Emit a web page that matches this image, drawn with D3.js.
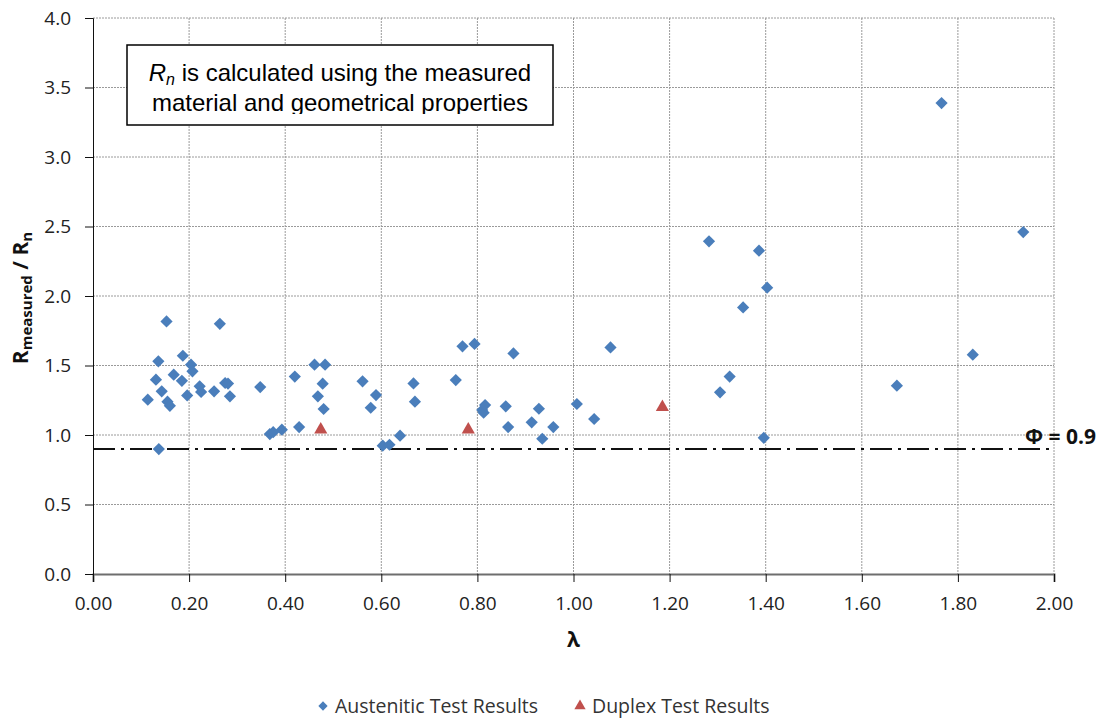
<!DOCTYPE html>
<meta charset="utf-8">
<head>
<style>
  body { margin: 0; background: #fff; }
  svg { display: block; }
  .tick text { font-family: "Open Sans", sans-serif; font-size: 19px; fill: #222; }
  .grid line { stroke: #9a9a9a; stroke-dasharray: 2,1; }
  .axis-title { font-family: "Open Sans", sans-serif; font-weight: bold; fill: #111; }
  .legend text { font-family: "Open Sans", sans-serif; font-size: 19.5px; fill: #333; }
  .note { font-family: "Liberation Sans", Arial, sans-serif; font-size: 24px; fill: #000; }
</style>
<script src="https://d3js.org/d3.v7.min.js"></script>
</head>
<body>
<svg width="1099" height="720"></svg>
<script>
// Austenitic test results (lambda, Rmeasured/Rn)
var austLambda = [0.153, 0.264, 0.136, 0.187, 0.204, 0.207, 0.131, 0.168, 0.185, 0.143,
                  0.114, 0.155, 0.160, 0.196, 0.222, 0.225, 0.252, 0.275, 0.281, 0.285,
                  0.137, 0.348, 0.368, 0.375, 0.393, 0.420, 0.429, 0.461, 0.468, 0.478,
                  0.480, 0.483, 0.561, 0.578, 0.589, 0.603, 0.617, 0.639, 0.667, 0.670,
                  0.755, 0.769, 0.794, 0.810, 0.813, 0.816, 0.859, 0.864, 0.875, 0.913,
                  0.928, 0.935, 0.958, 1.007, 1.043, 1.077, 1.282, 1.305, 1.325, 1.353,
                  1.386, 1.396, 1.403, 1.673, 1.766, 1.831, 1.936];
var austRatio  = [1.817, 1.800, 1.530, 1.570, 1.506, 1.458, 1.398, 1.434, 1.390, 1.314,
                  1.254, 1.240, 1.210, 1.285, 1.350, 1.310, 1.314, 1.374, 1.370, 1.278,
                  0.899, 1.345, 1.007, 1.020, 1.038, 1.420, 1.057, 1.506, 1.278, 1.369,
                  1.187, 1.506, 1.386, 1.196, 1.287, 0.923, 0.930, 0.995, 1.371, 1.240,
                  1.395, 1.638, 1.655, 1.180, 1.160, 1.215, 1.206, 1.057, 1.587, 1.091,
                  1.189, 0.973, 1.057, 1.223, 1.115, 1.630, 2.393, 1.307, 1.420, 1.918,
                  2.326, 0.980, 2.060, 1.355, 3.388, 1.578, 2.460];
// Duplex test results
var duplexLambda = [0.474, 0.781, 1.185];
var duplexRatio  = [1.038, 1.038, 1.200];

var xTicks = [0, 0.2, 0.4, 0.6, 0.8, 1.0, 1.2, 1.4, 1.6, 1.8, 2.0];
var yTicks = [0, 0.5, 1.0, 1.5, 2.0, 2.5, 3.0, 3.5, 4.0];
var phi = 0.9;

var margin = {top: 18, left: 93, right: 45, bottom: 146};
var svg = d3.select("svg"),
    width = +svg.attr("width") - margin.left - margin.right,
    height = +svg.attr("height") - margin.top - margin.bottom;

var x = d3.scaleLinear().domain([0, 2]).range([0, width]);
var y = d3.scaleLinear().domain([0, 4]).range([height, 0]);

var g = svg.append("g").attr("transform", "translate(" + margin.left + "," + margin.top + ")");

// gridlines
g.append("g").attr("class", "grid")
  .selectAll("line").data(yTicks.slice(1)).enter().append("line")
    .attr("x1", 0).attr("x2", width)
    .attr("y1", d => y(d)).attr("y2", d => y(d));
g.append("g").attr("class", "grid")
  .selectAll("line").data(xTicks.slice(1)).enter().append("line")
    .attr("y1", 0).attr("y2", height)
    .attr("x1", d => x(d)).attr("x2", d => x(d));

// axes
var xAxis = g.append("g")
    .attr("transform", "translate(0," + height + ")")
    .call(d3.axisBottom(x).tickValues(xTicks).tickFormat(d3.format(".2f")).tickSize(8).tickPadding(15));
xAxis.select(".domain").attr("stroke", "#6e6e6e").attr("stroke-width", 2);
xAxis.selectAll(".tick line").attr("stroke", "#111");

var yAxis = g.append("g")
    .call(d3.axisLeft(y).tickValues(yTicks).tickFormat(d3.format(".1f")).tickSize(8).tickPadding(14));
yAxis.select(".domain").attr("stroke", "#111");
yAxis.selectAll(".tick line").attr("stroke", "#111");

// phi line
g.append("line")
    .attr("x1", 0).attr("x2", width)
    .attr("y1", y(phi)).attr("y2", y(phi))
    .attr("stroke", "#111").attr("stroke-width", 2)
    .attr("stroke-dasharray", "22,6,3,6");
g.append("text")
    .attr("class", "axis-title")
    .attr("x", width + 42).attr("y", y(phi) - 5)
    .attr("text-anchor", "end")
    .style("font-size", "21px")
    .text("\u03A6 = 0.9");

// markers
var diamond = d3.symbol().type(d3.symbolDiamond2).size(95);
g.append("g").selectAll("path")
  .data(austLambda.map((d, i) => [d, austRatio[i]]))
  .enter().append("path")
    .attr("d", diamond)
    .attr("transform", d => "translate(" + x(d[0]) + "," + y(d[1]) + ")")
    .attr("fill", "#4A7EBB");

var tri = d3.symbol().type(d3.symbolTriangle).size(75);
g.append("g").selectAll("path")
  .data(duplexLambda.map((d, i) => [d, duplexRatio[i]]))
  .enter().append("path")
    .attr("d", tri)
    .attr("transform", d => "translate(" + x(d[0]) + "," + y(d[1]) + ")")
    .attr("fill", "#C0504D");

// note box
var box = svg.append("g").attr("transform", "translate(127,45)");
box.append("clipPath").attr("id", "noteclip")
  .append("rect").attr("x", 0).attr("y", 0).attr("width", 426).attr("height", 69);
box.append("rect")
    .attr("x", 0).attr("y", 0).attr("width", 426).attr("height", 80)
    .attr("fill", "#fff").attr("stroke", "#000").attr("stroke-width", 1.5);
var note = box.append("text").attr("class", "note").attr("clip-path", "url(#noteclip)")
    .attr("text-anchor", "middle");
var l1 = note.append("tspan").attr("x", 213).attr("y", 36);
l1.append("tspan").style("font-style", "italic").text("R");
l1.append("tspan").style("font-style", "italic").style("font-size", "16px").attr("dy", 4).text("n");
l1.append("tspan").attr("dy", -4).text(" is calculated using the measured");
note.append("tspan").attr("x", 213).attr("y", 66).text("material and geometrical properties");

// axis titles
svg.append("text").attr("class", "axis-title")
    .attr("x", margin.left + width / 2).attr("y", 647)
    .attr("text-anchor", "middle").style("font-size", "21px")
    .text("\u03BB");

var yl = svg.append("text").attr("class", "axis-title")
    .attr("transform", "translate(28,298) rotate(-90)")
    .attr("text-anchor", "middle").style("font-size", "21px");
yl.append("tspan").text("R");
yl.append("tspan").attr("dy", 4).style("font-size", "15px").text("measured");
yl.append("tspan").attr("dy", -4).text(" / R");
yl.append("tspan").attr("dy", 4).style("font-size", "15px").text("n");

// legend
var legend = svg.append("g").attr("class", "legend");
var items = [
  {label: "Austenitic Test Results", sym: diamond, color: "#4A7EBB", x: 323},
  {label: "Duplex Test Results", sym: tri, color: "#C0504D", x: 580}
];
items.forEach(function(it) {
  legend.append("path").attr("d", it.sym.size(55)())
    .attr("transform", "translate(" + it.x + ",706)").attr("fill", it.color);
  legend.append("text").attr("x", it.x + 12).attr("y", 713).text(it.label);
});
</script>
</body>
